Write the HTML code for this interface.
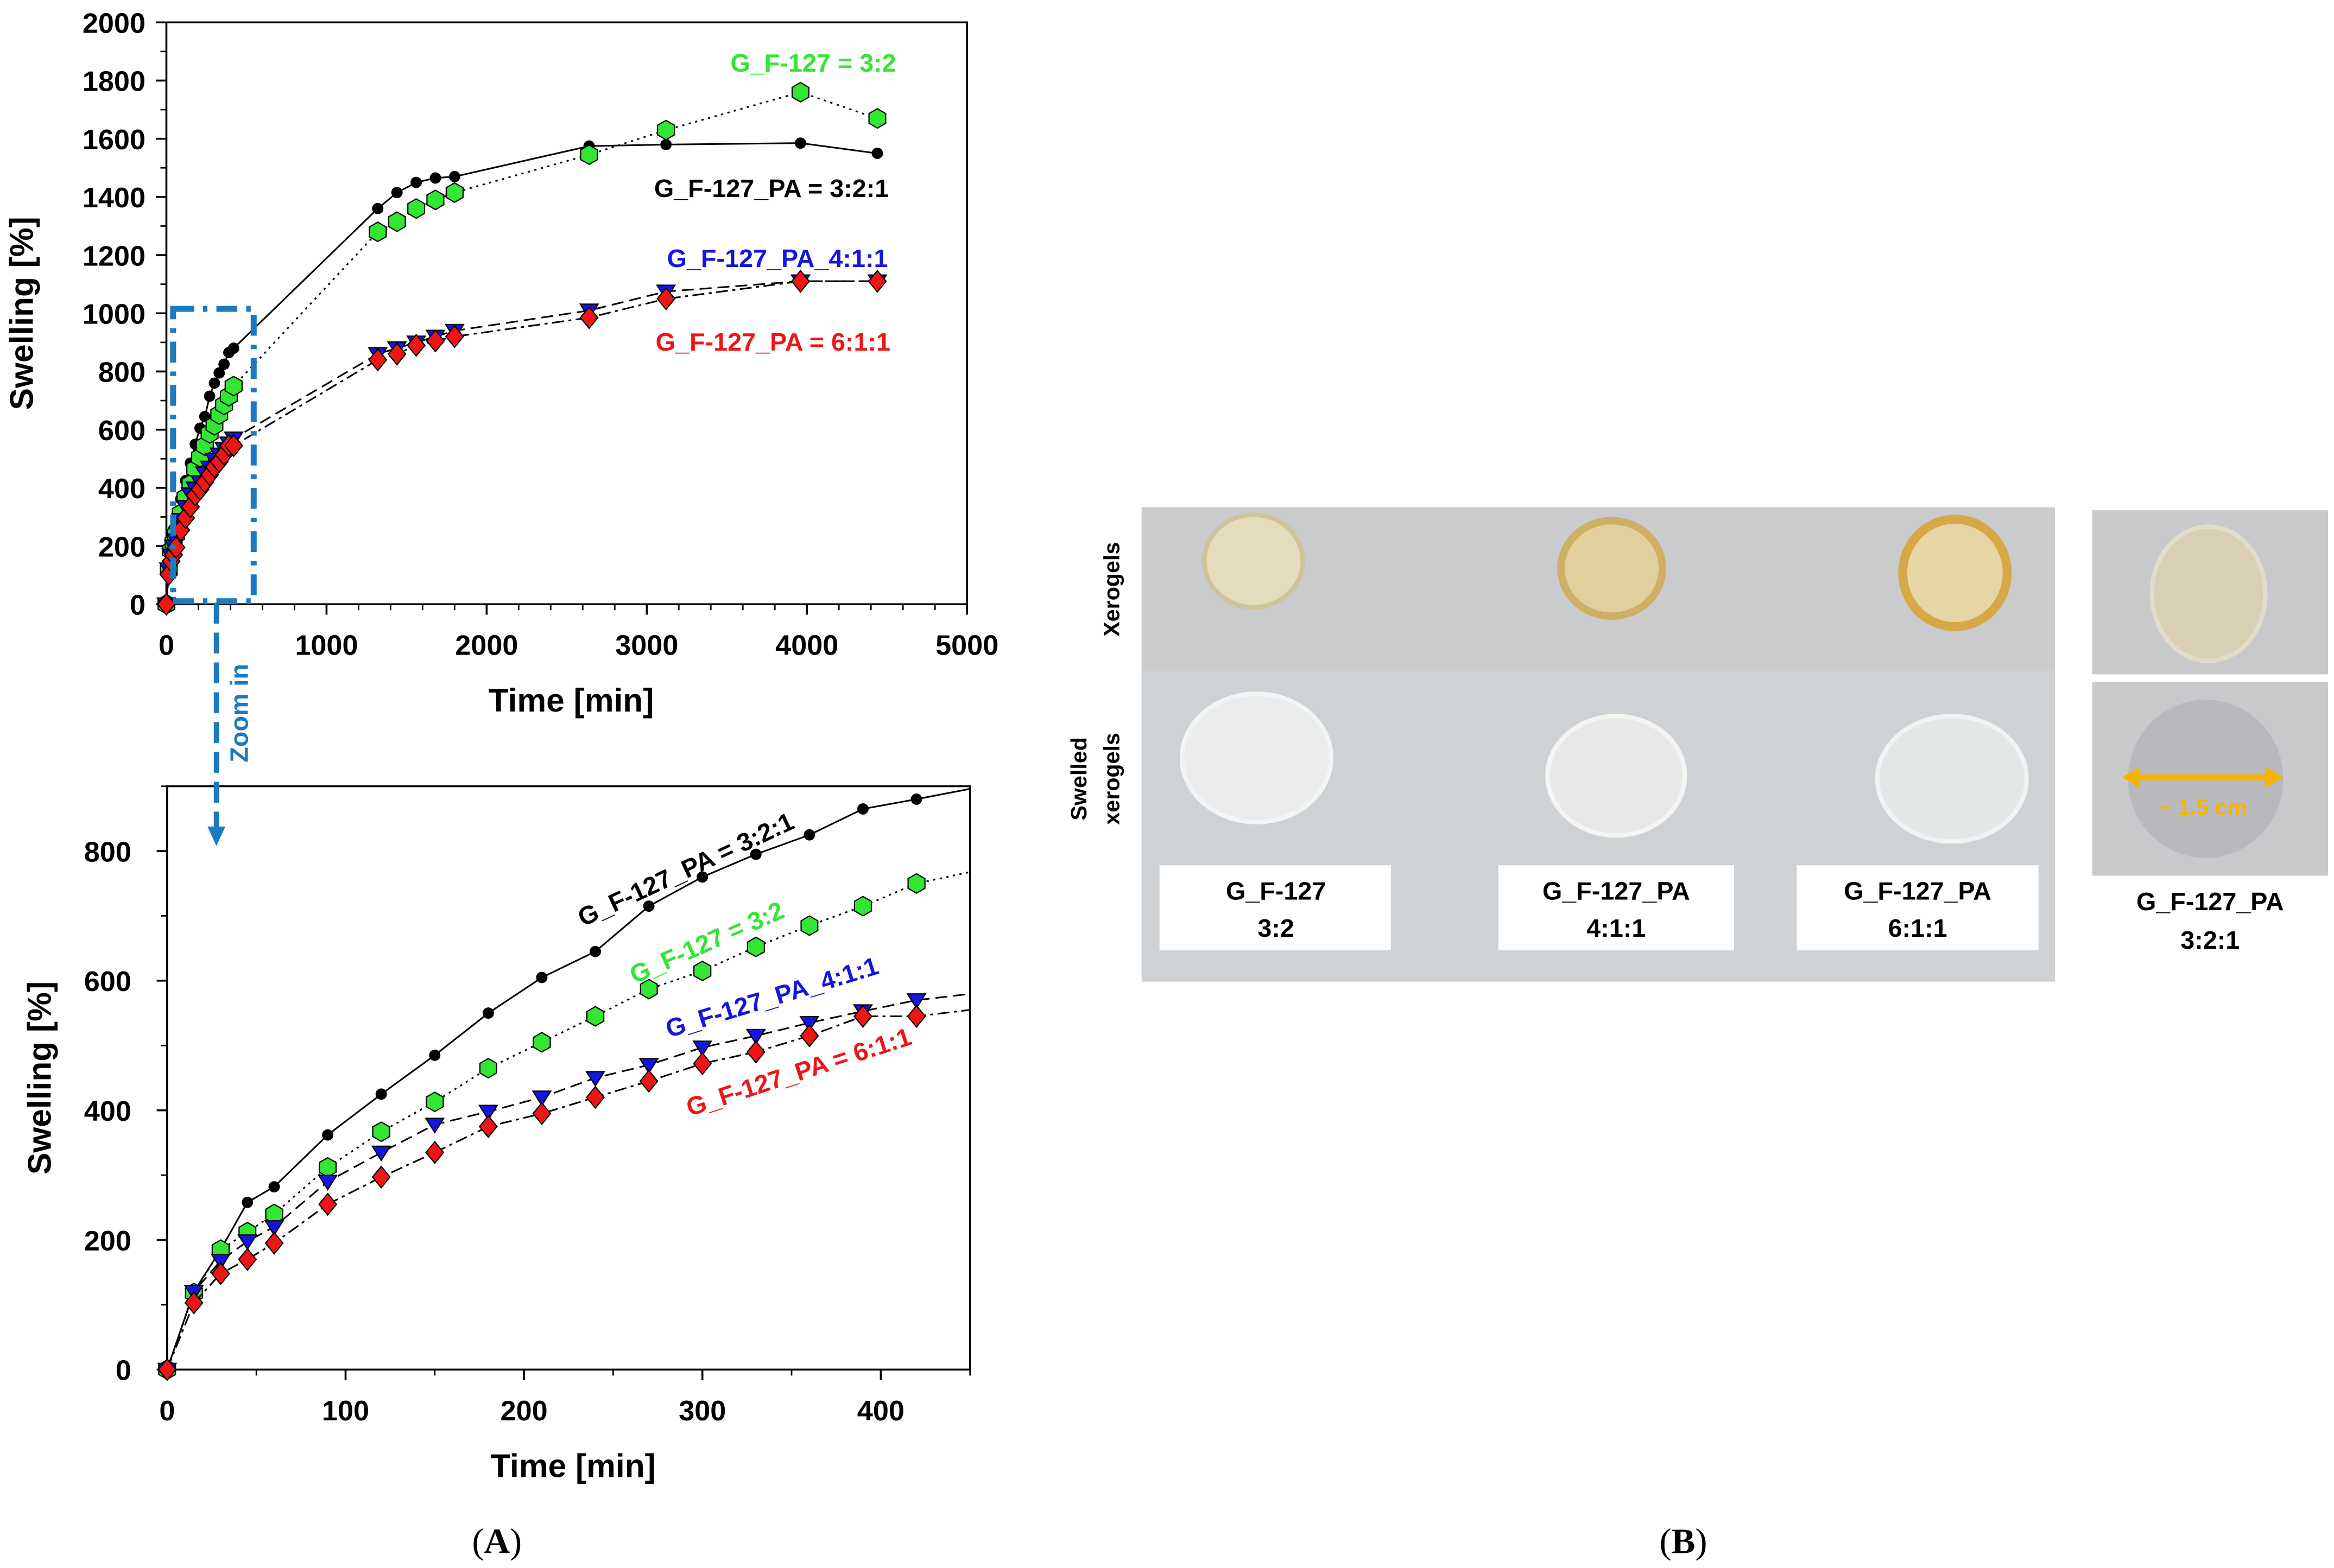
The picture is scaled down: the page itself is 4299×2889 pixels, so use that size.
<!DOCTYPE html>
<html><head><meta charset="utf-8"><style>
html,body{margin:0;padding:0;background:#fff;}
svg{display:block;font-family:"Liberation Sans",Arial,sans-serif;}
.t{font-weight:bold;}
</style></head><body>
<svg id="fig" width="4299" height="2889" viewBox="0 0 1564 1051" preserveAspectRatio="none" xmlns="http://www.w3.org/2000/svg">
<rect x="0" y="0" width="1564" height="1051" fill="#fff"/>
<g id="topChart"></g>
<g id="botChart"></g>
<g>
<rect x="116" y="207" width="54" height="196" fill="none" stroke="#1b7ac0" stroke-width="4" stroke-dasharray="14,6,3,6"/>
<line x1="145" y1="404" x2="145" y2="556" stroke="#1b7ac0" stroke-width="3.5" stroke-dasharray="14,6"/>
<polygon points="139,554 151,554 145,567" fill="#1b7ac0"/>
<text x="0" y="0" transform="translate(166,478) rotate(-90)" text-anchor="middle" font-size="17" class="t" fill="#1b7ac0">Zoom in</text>
</g>
<text x="333" y="1041" text-anchor="middle" font-family="Liberation Serif,serif" font-size="24">(<tspan font-weight="bold">A</tspan>)</text>
<text x="1128" y="1041" text-anchor="middle" font-family="Liberation Serif,serif" font-size="24">(<tspan font-weight="bold">B</tspan>)</text>
<g>
<rect x="765" y="340" width="612" height="110" fill="#c9cbcd"/>
<rect x="765" y="450" width="612" height="208" fill="#cfd2d5"/>
<ellipse cx="840" cy="376" rx="33" ry="31" fill="#e4dcbc" stroke="#cfc39a" stroke-width="3"/>
<ellipse cx="1080" cy="381" rx="34" ry="32" fill="#e2cf9e" stroke="#cfae66" stroke-width="5"/>
<ellipse cx="1310" cy="384" rx="35" ry="36" fill="#e6d6a6" stroke="#d6a846" stroke-width="6"/>
<ellipse cx="842" cy="508" rx="50" ry="43" fill="#eaeced" stroke="#f3f4f4" stroke-width="3"/>
<ellipse cx="1083" cy="520" rx="46" ry="40" fill="#e7e9e8" stroke="#f4f4f2" stroke-width="3"/>
<ellipse cx="1308" cy="522" rx="50" ry="42" fill="#e4e7e8" stroke="#f1f2f2" stroke-width="3"/>
<rect x="777" y="580" width="155" height="57" fill="#fff"/>
<rect x="1004" y="580" width="158" height="57" fill="#fff"/>
<rect x="1204" y="580" width="162" height="57" fill="#fff"/>
<g class="t" font-size="17" text-anchor="middle">
<text x="855" y="603">G_F-127</text><text x="855" y="628">3:2</text>
<text x="1083" y="603">G_F-127_PA</text><text x="1083" y="628">4:1:1</text>
<text x="1285" y="603">G_F-127_PA</text><text x="1285" y="628">6:1:1</text>
<text x="1481" y="610">G_F-127_PA</text><text x="1481" y="636">3:2:1</text>
<text transform="translate(750,395) rotate(-90)" font-size="15">Xerogels</text>
<text transform="translate(728,522) rotate(-90)" font-size="15">Swelled</text>
<text transform="translate(750,522) rotate(-90)" font-size="15">xerogels</text>
</g>
<rect x="1402" y="342" width="158" height="110" fill="#c8c9cb"/>
<ellipse cx="1480" cy="398" rx="38" ry="45" fill="#d9cfb5" stroke="#e2dccb" stroke-width="3"/>
<rect x="1402" y="457" width="158" height="130" fill="#c7c9cb"/>
<ellipse cx="1478" cy="522" rx="52" ry="53" fill="#b9b8bc"/>
<line x1="1430" y1="521" x2="1526" y2="521" stroke="#f5b400" stroke-width="4"/>
<polygon points="1422,521 1434,514 1434,528" fill="#f5b400"/>
<polygon points="1530,521 1518,514 1518,528" fill="#f5b400"/>
<text x="1476" y="546" text-anchor="middle" class="t" font-size="15" fill="#f5b400">~ 1.5 cm</text>
</g>
</svg>
<script>
const NS="http://www.w3.org/2000/svg";
// ---- data ----
const tEarly=[0,15,30,45,60,90,120,150,180,210,240,270,300,330,360,390,420];
const tLate=[1320,1440,1560,1680,1800,2640,3120,3960,4440];
const blackEarly=[0,120,185,258,282,362,425,485,550,605,645,715,760,795,825,865,880];
const greenEarly=[0,118,185,212,240,312,367,413,465,505,545,587,615,652,685,715,750];
const blueEarly=[0,120,168,198,220,290,335,378,398,420,450,470,497,515,535,553,570];
const redEarly=[0,103,148,170,195,255,297,335,375,395,420,445,472,490,515,545,545];
const blackLate=[1360,1415,1450,1465,1470,1575,1580,1585,1550];
const greenLate=[1280,1315,1360,1390,1415,1545,1630,1760,1670];
const blueLate=[860,880,900,920,940,1010,1075,1110,1110];
const redLate=[840,860,890,905,920,985,1050,1110,1110];
const topXTicks=[0,1000,2000,3000,4000,5000];
const topYTicks=[0,200,400,600,800,1000,1200,1400,1600,1800,2000];
const botXTicks=[0,100,200,300,400];
const botYTicks=[0,200,400,600,800];

function mk(tag,attrs,parent){const e=document.createElementNS(NS,tag);for(const k in attrs)e.setAttribute(k,attrs[k]);parent.appendChild(e);return e;}
function marker(g,kind,x,y,s){
  let e;
  if(kind==='circle'){e=mk('circle',{cx:x,cy:y,r:s,fill:'#000'},g);}
  else if(kind==='hex'){const p=[];for(let i=0;i<6;i++){const a=Math.PI/6+i*Math.PI/3;p.push((x+s*Math.cos(a)).toFixed(1)+','+(y+s*Math.sin(a)).toFixed(1));}
    e=mk('polygon',{points:p.join(' '),fill:'#33e633',stroke:'#000','stroke-width':0.8},g);}
  else if(kind==='tri'){e=mk('polygon',{points:`${x-s},${y-s*0.7} ${x+s},${y-s*0.7} ${x},${y+s*0.9}`,fill:'#1515e0',stroke:'#000','stroke-width':0.8},g);}
  else {e=mk('polygon',{points:`${x},${y-s*1.1} ${x+s*0.9},${y} ${x},${y+s*1.1} ${x-s*0.9},${y}`,fill:'#f01515',stroke:'#000','stroke-width':0.8},g);}
  
  
}
const series=[
 {name:'g-f127-pa-3-2-1',e:blackEarly,l:blackLate,kind:'circle',dash:'',sz:3.8},
 {name:'g-f127-3-2',e:greenEarly,l:greenLate,kind:'hex',dash:'1.5,3',sz:6.5},
 {name:'g-f127-pa-4-1-1',e:blueEarly,l:blueLate,kind:'tri',dash:'8,4',sz:6},
 {name:'g-f127-pa-6-1-1',e:redEarly,l:redLate,kind:'dia',dash:'8,3,2,3',sz:6.5}
];
function chart(g,o){
  const X=v=>o.x0+(v-o.xmin)/(o.xmax-o.xmin)*(o.x1-o.x0);
  const Y=v=>o.y0-(v-o.ymin)/(o.ymax-o.ymin)*(o.y0-o.y1);
  const fr=mk('path',{d:`M${o.x0},${o.y1}H${o.x1}V${o.y0}H${o.x0}Z`,fill:'none',stroke:'#000','stroke-width':1.3},g);
  
  
  o.xt.forEach(v=>{const x=X(v);mk('line',{x1:x,y1:o.y0,x2:x,y2:o.y0+7,stroke:'#000','stroke-width':1.3},g);
    const t=mk('text',{x:x,y:o.y0+34,'text-anchor':'middle','font-size':19,'font-weight':'bold'},g);t.textContent=v;
    
    });
  for(let v=o.xmin;v<=o.xmax;v+=o.xminor){const x=X(v);mk('line',{x1:x,y1:o.y0,x2:x,y2:o.y0+4,stroke:'#000','stroke-width':1},g);}
  o.yt.forEach(v=>{const y=Y(v);mk('line',{x1:o.x0-7,y1:y,x2:o.x0,y2:y,stroke:'#000','stroke-width':1.3},g);
    const t=mk('text',{x:o.x0-o.lblOff,y:y+7,'text-anchor':'end','font-size':19,'font-weight':'bold'},g);t.textContent=v;
    
    });
  for(let v=o.ymin;v<=o.ymax;v+=o.yminor){const y=Y(v);mk('line',{x1:o.x0-4,y1:y,x2:o.x0,y2:y,stroke:'#000','stroke-width':1},g);}
  const xt=mk('text',{x:(o.x0+o.x1)/2-o.xtOff,y:o.y0+72,'text-anchor':'middle','font-size':22,'font-weight':'bold'},g);xt.textContent='Time [min]';
  
  
  const yt=mk('text',{transform:`translate(${o.ytx},${(o.y0+o.y1)/2}) rotate(-90)`,'text-anchor':'middle','font-size':22,'font-weight':'bold'},g);yt.textContent='Swelling [%]';
  
  
  const clip='c'+Math.round(o.x0+o.y0);
  const cp=mk('clipPath',{id:clip},g);mk('rect',{x:o.x0,y:o.y1,width:o.x1-o.x0,height:o.y0-o.y1+20},cp);
  series.forEach(s=>{
    const ts=o.late?tEarly.concat(tLate):tEarly.slice();
    const vs=o.late?s.e.concat(s.l):s.e.slice();
    const sg=mk('g',{},g);
    
    
    let lt=ts.slice(),lv=vs.slice();
    if(!o.late){lt.push(tLate[0]);lv.push(s.l[0]);}
    const d=lt.map((t,i)=>(i?'L':'M')+X(t).toFixed(1)+','+Y(lv[i]).toFixed(1)).join('');
    const p=mk('path',{d:d,fill:'none',stroke:'#000','stroke-width':1.1,'stroke-dasharray':s.dash,'clip-path':`url(#${clip})`},sg);
    
    
    ts.forEach((t,i)=>marker(sg,s.kind,X(t),Y(vs[i]),s.sz));
  });
  o.labels.forEach(L=>{const t=mk('text',{transform:`translate(${L[0]},${L[1]}) rotate(${L[2]})`,'font-size':17,'font-weight':'bold',fill:L[3],'text-anchor':'middle'},g);t.textContent=L[4];
    
    });
}
chart(document.getElementById('topChart'),{x0:111.5,x1:648,y0:405,y1:15,xmin:0,xmax:5000,ymin:0,ymax:2000,xt:topXTicks,yt:topYTicks,xminor:200,yminor:100,late:true,lblOff:14,ytx:22,xtOff:-3,
 labels:[[545,48,0,'#33e633','G_F-127 = 3:2'],[517,132,0,'#000','G_F-127_PA = 3:2:1'],[521,179,0,'#1515e0','G_F-127_PA_4:1:1'],[518,235,0,'#f01515','G_F-127_PA = 6:1:1']]});
chart(document.getElementById('botChart'),{x0:112,x1:650,y0:918,y1:527,xmin:0,xmax:450,ymin:0,ymax:900,xt:botXTicks,yt:botYTicks,xminor:50,yminor:100,late:false,lblOff:24,ytx:34,xtOff:-3,
 labels:[[462,588,-25,'#000','G_F-127_PA = 3:2:1'],[476,637,-24,'#33e633','G_F-127 = 3:2'],[519,674,-17,'#1515e0','G_F-127_PA_4:1:1'],[537,724,-18,'#f01515','G_F-127_PA = 6:1:1']]});
</script>
</body></html>
